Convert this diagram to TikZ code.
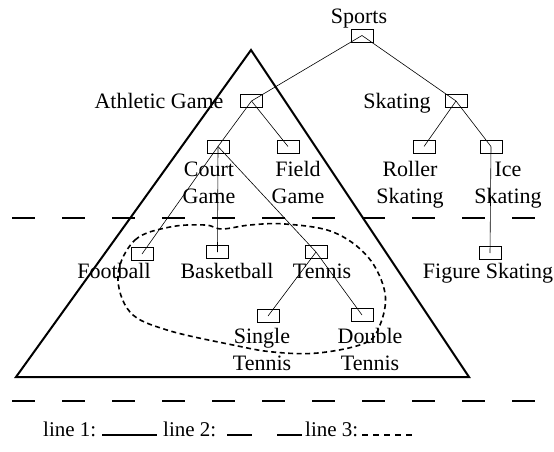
\documentclass[tikz,border=0pt]{standalone}
\usepackage{fontspec}
\setmainfont{Liberation Serif}
\usetikzlibrary{positioning}

\begin{document}
\begin{tikzpicture}[x=1pt, y=-1pt, font=\fontsize{22}{27}\selectfont,
        box/.style={draw, line width=0.6pt, minimum width=22pt, minimum height=13pt, inner sep=0pt},
        txt/.style={inner sep=0pt, align=center, anchor=base},
        edge/.style={line width=0.6pt},
        sep/.style={line width=2.2pt, dash pattern=on 23pt off 27pt},
        ring/.style={line width=1.6pt, dash pattern=on 5pt off 3.5pt}]
    \useasboundingbox (0, 0) rectangle (554, 452);

    \node[box] (1) at (362, 35.5) {};
    \node[box] (2) at (251.5, 101) {};
    \node[box] (3) at (456, 101) {};
    \node[box] (4) at (218, 146.5) {};
    \node[box] (5) at (288, 146.5) {};
    \node[box] (6) at (424, 146.5) {};
    \node[box] (7) at (491, 146.5) {};
    \node[box] (8) at (142, 254) {};
    \node[box] (9) at (217.5, 252) {};
    \node[box] (10) at (316, 252) {};
    \node[box] (11) at (490, 253) {};
    \node[box] (12) at (268, 316) {};
    \node[box] (13) at (362, 315) {};

    \node[txt] (t1) at (359, 23.5) {Sports};
    \node[txt] (t2) at (159, 108) {Athletic Game};
    \node[txt] (t3) at (397, 108) {Skating};
    \node[txt] (t4) at (209, 203.5) {Court\\Game};
    \node[txt] (t5) at (298, 203.5) {Field\\Game};
    \node[txt] (t6) at (410, 203.5) {Roller\\Skating};
    \node[txt] (t7) at (508, 203.5) {Ice\\Skating};
    \node[txt] (t8) at (114, 278) {Football};
    \node[txt] (t9) at (227, 278) {Basketball};
    \node[txt] (t10) at (322, 278) {Tennis};
    \node[txt] (t11) at (488, 278) {Figure Skating};
    \node[txt] (t12) at (262, 370) {Single\\Tennis};
    \node[txt] (t13) at (370, 370) {Double\\Tennis};

    \draw[edge] (1.center) -- (2.center);
    \draw[edge] (1.center) -- (3.center);
    \draw[edge] (2.center) -- (4.center);
    \draw[edge] (2.center) -- (5.center);
    \draw[edge] (3.center) -- (6.center);
    \draw[edge] (3.center) -- (7.center);
    \draw[edge] (4.center) -- (8.center);
    \draw[edge] (4.center) -- (9.center);
    \draw[edge] (4.center) -- (10.center);
    \draw[edge] (7.center) -- (11.center);
    \draw[edge] (10.center) -- (12.center);
    \draw[edge] (10.center) -- (13.center);

    \draw[line width=2pt, line join=miter] (251, 50) -- (469, 377) -- (16, 377) -- cycle;
    \draw[ring] plot[smooth cycle, tension=0.6] coordinates {(118,275) (135,240) (170,227) (205,225) (222,229) (250,225) (285,224) (333,232) (368,257) (385,293) (380,325) (365,343) (318,353) (273,352) (233,345) (167,330) (130,312)};

    \draw[sep] (12, 218) -- (535, 218);
    \draw[sep] (12, 401) -- (535, 401);

    \node[txt, anchor=base west, font=\fontsize{21}{25}\selectfont] (l1) at (43, 436.5) {line 1:};
    \node[txt, anchor=base west, font=\fontsize{21}{25}\selectfont] (l2) at (163, 436.5) {line 2:};
    \node[txt, anchor=base west, font=\fontsize{21}{25}\selectfont] (l3) at (305, 436.5) {line 3:};
    \draw[line width=1.8pt] (102, 435) -- (157, 435);
    \draw[line width=1.8pt] (227, 435) -- (252, 435);
    \draw[line width=1.8pt] (277, 435) -- (302, 435);
    \draw[line width=1.6pt, dash pattern=on 6pt off 5pt] (362, 435) -- (413, 435);
\end{tikzpicture}
\end{document}
